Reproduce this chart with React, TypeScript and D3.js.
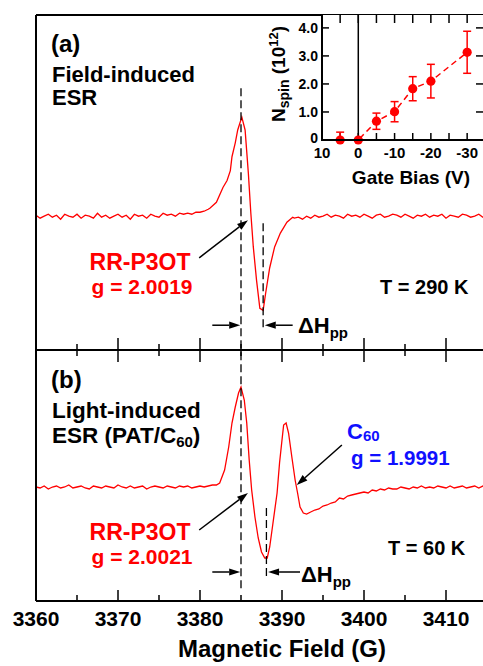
import React from "react";
import * as d3 from "d3";

// ESR spectra, field in G, signal in arb. units (baseline 0, first peak 1)
const FIELD_STEP = 0.5; // baseline parts are sampled every 0.5 G

const baseLeftA = [0.01, -0.02, 0.0, 0.02, -0.01, 0.01, -0.03, 0.02, 0.0, -0.01,
  0.02, -0.02, 0.01, 0.0, -0.02, 0.03, -0.01, 0.01, -0.02, 0.0,
  0.02, -0.01, 0.01, -0.03, 0.02, 0.0, 0.01, -0.02, 0.02, 0.0,
  -0.01, 0.03, 0.01, 0.02, 0.0, 0.03, 0.02, 0.03, 0.02, 0.04,
  0.04, 0.05, 0.07];
const peakFieldA = [3381.2, 3382.0, 3382.8, 3383.3, 3383.7, 3383.9, 3384.3, 3384.6, 3385.1, 3385.5,
  3385.9, 3386.2, 3386.5, 3386.9, 3387.3, 3387.7, 3388.0, 3388.5, 3389.1, 3389.8, 3390.6, 3391.3];
const peakSignalA = [0.08, 0.14, 0.29, 0.36, 0.46, 0.6, 0.74, 0.87, 1.0, 0.87,
  0.43, 0.03, -0.31, -0.65, -0.93, -0.95, -0.78, -0.52, -0.31, -0.17, -0.06, -0.01];
const baseRightA = [-0.02, -0.01, -0.03, 0.0, -0.02, 0.01, -0.01, 0.0, 0.02, -0.01,
  0.01, 0.0, -0.02, 0.02, 0.0, 0.01, -0.01, 0.02, 0.0, -0.02,
  0.01, 0.02, -0.01, 0.0, 0.02, 0.01, -0.01, 0.02, 0.0, -0.02,
  0.01, 0.0, 0.02, -0.01, 0.01, 0.0, 0.02, -0.02, 0.01, 0.0,
  -0.01, 0.02, 0.01, -0.01, 0.0, 0.02, -0.01, 0.0];

const baseLeftB = [0.0, -0.01, 0.01, -0.02, 0.0, 0.01, -0.01, 0.0, 0.02, -0.01,
  0.0, 0.01, -0.01, -0.02, 0.01, 0.0, -0.01, 0.01, 0.0, -0.01,
  0.02, 0.0, -0.01, 0.01, -0.01, 0.0, 0.01, -0.02, 0.0, 0.01,
  0.0, -0.01, 0.01, 0.0, -0.01, 0.01, 0.0, 0.01, -0.01, 0.0,
  0.01, 0.0, 0.01, 0.02, 0.02];
const peakFieldB = [3382.4, 3383.0, 3383.5, 3383.9, 3384.3, 3384.7, 3385.0, 3385.4, 3385.7, 3386.0,
  3386.3, 3386.7, 3387.1, 3387.5, 3387.9, 3388.2, 3388.5, 3388.9, 3389.4, 3389.7,
  3390.0, 3390.2, 3390.5, 3390.8, 3391.2, 3391.6, 3391.9, 3392.2, 3392.6, 3393.0];
const peakSignalB = [0.04, 0.17, 0.4, 0.64, 0.8, 0.94, 1.0, 0.87, 0.64, 0.27,
  -0.03, -0.3, -0.51, -0.65, -0.71, -0.71, -0.6, -0.36, -0.06, 0.24,
  0.47, 0.62, 0.64, 0.54, 0.3, 0.07, -0.06, -0.2, -0.26, -0.27];
const tailB = [-0.25, -0.23, -0.22, -0.19, -0.18, -0.16, -0.15, -0.11, -0.12, -0.09,
  -0.08, -0.07, -0.06, -0.05, -0.06, -0.03, -0.04, -0.02, -0.03, -0.01,
  -0.02, -0.02, 0.0, -0.01, -0.02, 0.0, -0.01, 0.01, -0.01, 0.0,
  -0.01, 0.01, 0.0, -0.01, 0.01, -0.01, 0.0, 0.01, -0.01, 0.0,
  0.01, -0.01, 0.01, 0.0];

const fieldTicks = [3360, 3370, 3380, 3390, 3400, 3410];

// inset: spin count vs gate bias
const gateBias = [5, 0, -5, -10, -15, -20, -30];
const nSpin = [0, 0, 0.67, 1.01, 1.83, 2.1, 3.13];
const nSpinErr = [0.28, 0, 0.29, 0.36, 0.43, 0.6, 0.75];
const gateTicks = [10, 0, -10, -20, -30];
const nTicks = [0, 1, 2, 3, 4];
const nTickLabels = ["0", "1.0", "2.0", "3.0", "4.0"];

const FONT = "'Liberation Sans', Arial, Helvetica, sans-serif";
const RED = "#ff0000";
const BLUE = "#1010ff";

const grid = (start: number, vals: number[]) => vals.map((s, i) => ({ f: start + i * FIELD_STEP, s }));
const pairs = (fs: number[], ss: number[]) => fs.map((f, i) => ({ f, s: ss[i] }));

const seriesA = [...grid(3360, baseLeftA), ...pairs(peakFieldA, peakSignalA), ...grid(3391.5, baseRightA)];
const seriesB = [...grid(3360, baseLeftB), ...pairs(peakFieldB, peakSignalB), ...grid(3393.5, tailB)];

const L = 36, R = 487, TOP = 15, MID = 350, BOT = 601;
const x = d3.scaleLinear().domain([3360, 3415]).range([L, R]);
const yA = d3.scaleLinear().domain([-1.35, 2.03]).range([MID, TOP]);
const yB = d3.scaleLinear().domain([-1.14, 1.37]).range([BOT, MID]);

const IL = 322, IB = 140;
const ix = d3.scaleLinear().domain([10, -35]).range([IL, 485.3]);
const iy = d3.scaleLinear().domain([0, 4.46]).range([IB, TOP]);

function Arrow({ x1, y1, x2, y2 }: { x1: number; y1: number; x2: number; y2: number }) {
  const a = Math.atan2(y2 - y1, x2 - x1);
  const len = 11, half = 3.6;
  const bx = x2 - len * Math.cos(a), by = y2 - len * Math.sin(a);
  const pts = [
    [x2, y2],
    [bx - half * Math.sin(a), by + half * Math.cos(a)],
    [bx + half * Math.sin(a), by - half * Math.cos(a)],
  ].map((p) => p.join(",")).join(" ");
  return (
    <g>
      <line x1={x1} y1={y1} x2={bx} y2={by} stroke="black" strokeWidth={1.5} />
      <polygon points={pts} fill="black" />
    </g>
  );
}

function Inset() {
  const line = d3.line<number>().x((d, i) => ix(gateBias[i])).y((d) => iy(d));
  const fiveTicks = d3.range(10, -36, -5);
  return (
    <g fontFamily={FONT} fontWeight="bold">
      <rect x={IL} y={TOP} width={R - IL} height={IB - TOP} fill="white" />
      <line x1={ix(0)} x2={ix(0)} y1={TOP} y2={IB} stroke="black" strokeWidth={1.5} />
      {fiveTicks.map((t) => (
        <g key={t}>
          <line x1={ix(t)} x2={ix(t)} y1={TOP} y2={TOP + 8} stroke="black" strokeWidth={1.5} />
          <line x1={ix(t)} x2={ix(t)} y1={IB} y2={IB - 7} stroke="black" strokeWidth={1.5} />
        </g>
      ))}
      {nTicks.map((t, i) => (
        <g key={t}>
          <line x1={IL} x2={IL + 7} y1={iy(t)} y2={iy(t)} stroke="black" strokeWidth={1.5} />
          <line x1={R - 2} x2={R - 11} y1={iy(t)} y2={iy(t)} stroke="black" strokeWidth={1.5} />
          <text x={IL - 4} y={iy(t) + (t === 0 ? 3 : 5)} fontSize={14} textAnchor="end">{nTickLabels[i]}</text>
        </g>
      ))}
      {gateTicks.map((t) => (
        <text key={t} x={ix(t)} y={158} fontSize={15} textAnchor="middle">{t}</text>
      ))}
      <path d={line(nSpin) || ""} fill="none" stroke={RED} strokeWidth={1.5} strokeDasharray="6,4" />
      {nSpin.map((v, i) =>
        nSpinErr[i] > 0 ? (
          <g key={i} stroke={RED} strokeWidth={1.5}>
            <line x1={ix(gateBias[i])} x2={ix(gateBias[i])} y1={iy(v + nSpinErr[i])} y2={iy(Math.max(0, v - nSpinErr[i]))} />
            <line x1={ix(gateBias[i]) - 4} x2={ix(gateBias[i]) + 4} y1={iy(v + nSpinErr[i])} y2={iy(v + nSpinErr[i])} />
            {v - nSpinErr[i] > 0 && (
              <line x1={ix(gateBias[i]) - 4} x2={ix(gateBias[i]) + 4} y1={iy(v - nSpinErr[i])} y2={iy(v - nSpinErr[i])} />
            )}
          </g>
        ) : null
      )}
      {nSpin.map((v, i) => (
        <circle key={i} cx={ix(gateBias[i])} cy={iy(v)} r={4.6} fill={RED} />
      ))}
      <path d={`M${IL},${TOP}V${IB}H${R}`} fill="none" stroke="black" strokeWidth={2} />
      <text x={411} y={184} fontSize={19} textAnchor="middle">Gate Bias (V)</text>
      <text transform="translate(285,74) rotate(-90)" fontSize={19} textAnchor="middle">
        N<tspan fontSize={14} dy={4}>spin</tspan>
        <tspan dy={-4}> (10</tspan>
        <tspan fontSize={13} dy={-7}>12</tspan>
        <tspan dy={7}>)</tspan>
      </text>
    </g>
  );
}

export default function App() {
  const lineA = d3.line<{ f: number; s: number }>().x((d) => x(d.f)).y((d) => yA(d.s));
  const lineB = d3.line<{ f: number; s: number }>().x((d) => x(d.f)).y((d) => yB(d.s));
  const minor = d3.range(3365, 3415, 10);
  return (
    <svg width={483} height={666} style={{ position: "absolute", left: 0, top: 0, background: "white" }}>
      {/* spectra */}
      <path d={lineA(seriesA) || ""} fill="none" stroke={RED} strokeWidth={1.3} />
      <path d={lineB(seriesB) || ""} fill="none" stroke={RED} strokeWidth={1.3} />

      {/* peak-to-peak markers */}
      <g stroke="black" strokeWidth={1.3} strokeDasharray="8,4">
        <line x1={x(3385)} x2={x(3385)} y1={yA(1.29)} y2={yB(-1.03)} />
        <line x1={x(3387.7)} x2={x(3387.7)} y1={yA(-0.07)} y2={yA(-1.16)} />
        <line x1={x(3388.1)} x2={x(3388.1)} y1={yB(-0.21)} y2={yB(-0.91)} />
      </g>
      <Arrow x1={x(3381.5)} y1={yA(-1.1)} x2={x(3384.9)} y2={yA(-1.1)} />
      <Arrow x1={x(3391.3)} y1={yA(-1.1)} x2={x(3387.9)} y2={yA(-1.1)} />
      <Arrow x1={x(3381.5)} y1={yB(-0.85)} x2={x(3384.9)} y2={yB(-0.85)} />
      <Arrow x1={x(3392.2)} y1={yB(-0.85)} x2={x(3388.3)} y2={yB(-0.85)} />
      <Arrow x1={x(3379.9)} y1={yA(-0.42)} x2={x(3385.85)} y2={yA(-0.04)} />
      <Arrow x1={x(3379.9)} y1={yB(-0.43)} x2={x(3385.85)} y2={yB(-0.06)} />
      <Arrow x1={x(3397.3)} y1={yB(0.42)} x2={x(3391.8)} y2={yB(0.02)} />

      {/* frame and field ticks */}
      <g stroke="black" strokeWidth={2}>
        <line x1={L} x2={L} y1={TOP} y2={BOT} />
        <line x1={L} x2={R} y1={TOP} y2={TOP} />
        <line x1={L} x2={R} y1={MID} y2={MID} />
        <line x1={L} x2={R} y1={BOT} y2={BOT} />
      </g>
      <g stroke="black" strokeWidth={1.5}>
        {fieldTicks.map((t) => (
          <g key={t}>
            <line x1={x(t)} x2={x(t)} y1={BOT} y2={BOT - 11} />
            <line x1={x(t)} x2={x(t)} y1={MID - 12} y2={MID + 12} />
          </g>
        ))}
        {minor.map((t) => (
          <g key={t}>
            <line x1={x(t)} x2={x(t)} y1={BOT} y2={BOT - 6} />
            <line x1={x(t)} x2={x(t)} y1={MID - 6} y2={MID + 6} />
          </g>
        ))}
      </g>

      <g fontFamily={FONT} fontWeight="bold">
        {fieldTicks.map((t) => (
          <text key={t} x={x(t)} y={626} fontSize={21} textAnchor="middle">{t}</text>
        ))}
        <text x={282} y={657} fontSize={24} textAnchor="middle">Magnetic Field (G)</text>

        <text x={51} y={52} fontSize={24}>(a)</text>
        <text x={52} y={82} fontSize={22}>Field-induced</text>
        <text x={52} y={105} fontSize={22}>ESR</text>
        <text x={140} y={270} fontSize={23} fill={RED} textAnchor="middle">RR-P3OT</text>
        <text x={142} y={294} fontSize={21} fill={RED} textAnchor="middle">g = 2.0019</text>
        <text x={380} y={294} fontSize={20}>T = 290 K</text>
        <text x={298} y={333} fontSize={22}>ΔH<tspan fontSize={15} dy={5}>pp</tspan></text>

        <text x={51} y={388} fontSize={24}>(b)</text>
        <text x={52} y={418} fontSize={22.5}>Light-induced</text>
        <text x={52} y={443} fontSize={22.5}>ESR (PAT/C<tspan fontSize={15} dy={4}>60</tspan><tspan dy={-4}>)</tspan></text>
        <text x={140} y={540} fontSize={23} fill={RED} textAnchor="middle">RR-P3OT</text>
        <text x={142} y={564} fontSize={21} fill={RED} textAnchor="middle">g = 2.0021</text>
        <text x={347} y={439} fontSize={22} fill={BLUE}>C<tspan fontSize={15} dy={2}>60</tspan></text>
        <text x={351} y={465} fontSize={20.5} fill={BLUE}>g = 1.9991</text>
        <text x={388} y={555} fontSize={20}>T = 60 K</text>
        <text x={301} y={582} fontSize={22}>ΔH<tspan fontSize={15} dy={5}>pp</tspan></text>
      </g>

      <Inset />
    </svg>
  );
}
